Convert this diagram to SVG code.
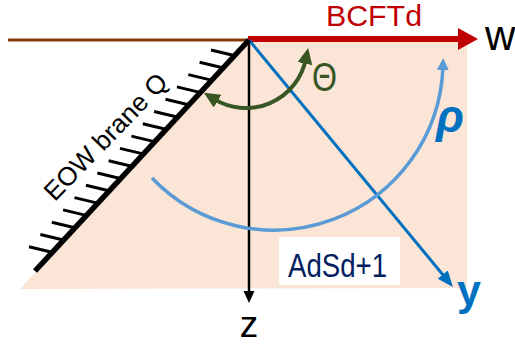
<svg xmlns="http://www.w3.org/2000/svg" width="515" height="345" viewBox="0 0 515 345">
<defs>
<style>
text{font-family:"Liberation Sans",Arial,sans-serif;}
.tick{stroke:#000;stroke-width:3;stroke-linecap:butt;}
</style>
<marker id="redHead" markerUnits="userSpaceOnUse" markerWidth="22" markerHeight="24" refX="2" refY="11" orient="auto"><path d="M0,0 L20,11 L0,22 z" fill="#C00000"/></marker>
<marker id="blackHead" markerUnits="userSpaceOnUse" markerWidth="14" markerHeight="12" refX="2" refY="5.5" orient="auto"><path d="M0,0 L12,5.5 L0,11 z" fill="#000"/></marker>
<marker id="blueHead" markerUnits="userSpaceOnUse" markerWidth="18" markerHeight="14" refX="4" refY="6.5" orient="auto"><path d="M0,0 L16,6.5 L0,13 z" fill="#0070C0"/></marker>
<marker id="ltBlueHead" markerUnits="userSpaceOnUse" markerWidth="14" markerHeight="14" refX="2" refY="6" orient="auto"><path d="M0,0 L12,6 L0,12 z" fill="#5B9BD5"/></marker>
<marker id="greenHead" markerUnits="userSpaceOnUse" markerWidth="18" markerHeight="16" refX="4" refY="7.5" orient="auto-start-reverse"><path d="M0,0 L16,7.5 L0,15 z" fill="#375623"/></marker>
</defs>

<g id="bulk">
<polygon points="249,40 467,40 467,288 20,289" fill="#FBE5D6"/>
</g>

<g id="boundary">
<line x1="8" y1="40" x2="249" y2="40" stroke="#843C0C" stroke-width="3"/>
</g>

<g id="connectors">
<line x1="248" y1="39" x2="460" y2="39" stroke="#C00000" stroke-width="6" marker-end="url(#redHead)"/>
<line x1="249" y1="40" x2="249" y2="293" stroke="#000" stroke-width="2.5" marker-end="url(#blackHead)"/>
<line x1="249" y1="40" x2="445.3" y2="277.7" stroke="#0070C0" stroke-width="3" marker-end="url(#blueHead)"/>
<path d="M152,178 A169,169 0 0 0 442.9,68.1" fill="none" stroke="#5B9BD5" stroke-width="3.5" marker-end="url(#ltBlueHead)"/>
<path d="M214.2,99.1 A61,61 0 0 0 305.7,59.7" fill="none" stroke="#375623" stroke-width="4" marker-start="url(#greenHead)" marker-end="url(#greenHead)"/>
</g>

<g id="brane">
<g id="ticks">
<line class="tick" x1="211" y1="50" x2="234" y2="55.5"/>
<line class="tick" x1="199.6" y1="62.3" x2="222.6" y2="67.8"/>
<line class="tick" x1="188.3" y1="74.6" x2="211.3" y2="80.1"/>
<line class="tick" x1="176.9" y1="86.9" x2="199.9" y2="92.4"/>
<line class="tick" x1="165.5" y1="99.2" x2="188.5" y2="104.7"/>
<line class="tick" x1="154.1" y1="111.5" x2="177.1" y2="117"/>
<line class="tick" x1="142.8" y1="123.8" x2="165.8" y2="129.3"/>
<line class="tick" x1="131.4" y1="136.1" x2="154.4" y2="141.6"/>
<line class="tick" x1="120" y1="148.4" x2="143" y2="153.9"/>
<line class="tick" x1="108.6" y1="160.7" x2="131.6" y2="166.2"/>
<line class="tick" x1="97.3" y1="173" x2="120.3" y2="178.5"/>
<line class="tick" x1="85.9" y1="185.3" x2="108.9" y2="190.8"/>
<line class="tick" x1="74.5" y1="197.6" x2="97.5" y2="203.1"/>
<line class="tick" x1="63.1" y1="209.9" x2="86.1" y2="215.4"/>
<line class="tick" x1="51.8" y1="222.2" x2="74.8" y2="227.7"/>
<line class="tick" x1="40.4" y1="234.5" x2="63.4" y2="240"/>
<line class="tick" x1="29" y1="246.8" x2="52" y2="252.3"/>
</g>
<line x1="249" y1="40" x2="35" y2="271" stroke="#000" stroke-width="5.5"/>
<text x="112" y="143" font-size="26" text-anchor="middle" fill="#000" textLength="165" lengthAdjust="spacingAndGlyphs" transform="rotate(-46 112 143)">EOW brane Q</text>
</g>

<g id="labels">
<text x="374" y="26" font-size="29" text-anchor="middle" fill="#C00000" textLength="96" lengthAdjust="spacingAndGlyphs">BCFTd</text>
<text x="485" y="50" font-size="42" fill="#000">w</text>
<text x="249" y="337" font-size="37" text-anchor="middle" fill="#000">z</text>
<text x="457" y="305" font-size="43" font-weight="bold" fill="#0070C0">y</text>
<text x="312" y="91" font-size="40" fill="#375623" textLength="25" lengthAdjust="spacingAndGlyphs">Θ</text>
<text x="436" y="132" font-size="46" font-weight="bold" font-style="italic" fill="#0070C0">ρ</text>
</g>

<g id="adsLabel">
<rect x="279" y="237" width="121" height="48" fill="#FFFFFF"/>
<text x="288" y="277" font-size="33" fill="#002060" textLength="99" lengthAdjust="spacingAndGlyphs">AdSd+1</text>
</g>
</svg>
